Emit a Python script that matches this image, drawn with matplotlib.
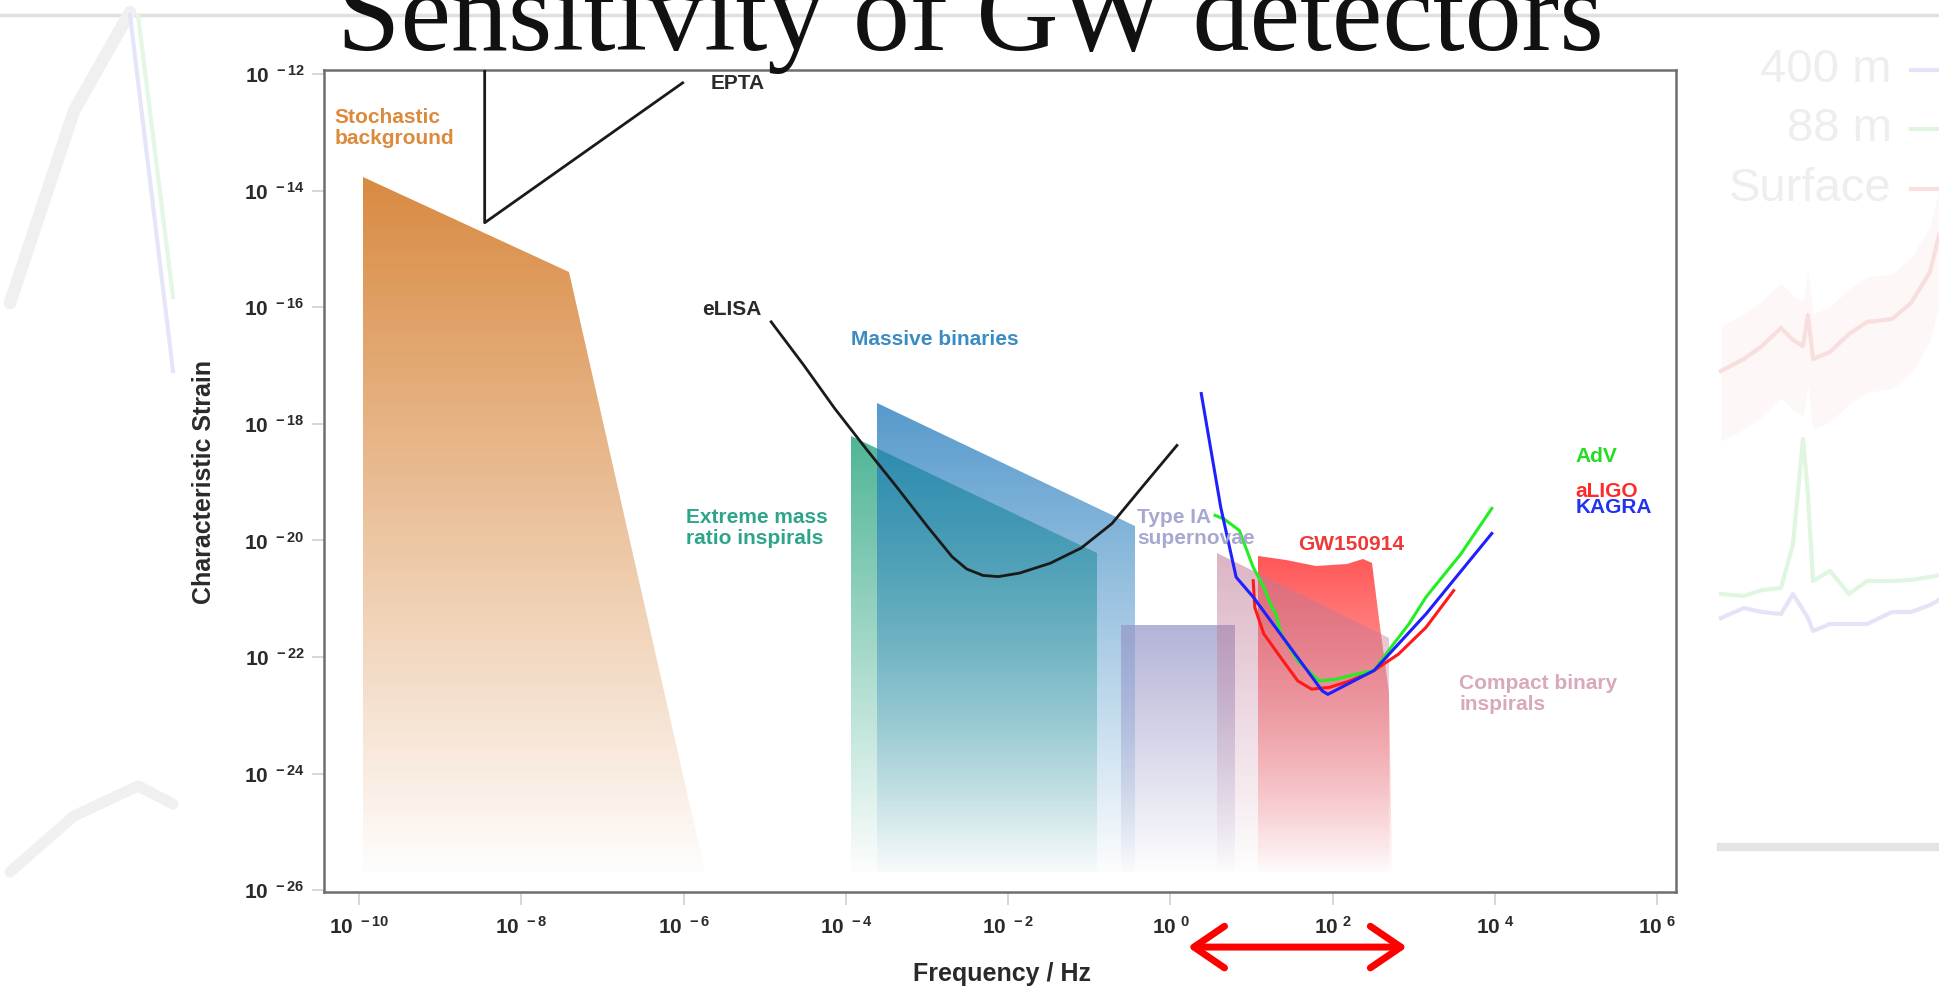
import numpy as np
import matplotlib
matplotlib.use('Agg')
import matplotlib.pyplot as plt
from matplotlib.patches import Polygon, Rectangle
from matplotlib.colors import LinearSegmentedColormap, to_rgb
from matplotlib.ticker import FixedLocator, FuncFormatter, NullLocator

plt.rcParams['font.family'] = ['Liberation Sans', 'DejaVu Sans']
plt.rcParams['mathtext.default'] = 'regular'

# --- source regions, in log10(f / Hz) and log10(h) ---
stoch_f = [-9.95, -7.41, -5.74, -9.95]
stoch_h = [-13.76, -15.40, -25.69, -25.69]

emri_f = [-3.93, -0.91, -0.91, -3.93]
emri_h = [-18.20, -20.22, -25.69, -25.69]

mbin_f = [-3.62, -0.44, -0.44, -3.62]
mbin_h = [-17.65, -19.75, -25.69, -25.69]

snia_f = [-0.61, 0.79, 0.79, -0.61]
snia_h = [-21.45, -21.45, -25.69, -25.69]

gw_f = [1.08, 1.42, 1.80, 2.18, 2.37, 2.48, 2.57, 2.69, 2.73, 1.08]
gw_h = [-20.26, -20.34, -20.43, -20.41, -20.32, -20.39, -21.34, -22.62, -25.69, -25.69]

cbc_f = [0.58, 2.69, 2.69, 0.58]
cbc_h = [-20.22, -21.68, -25.69, -25.69]

# --- detector sensitivity curves ---
epta_f = [-8.45, -8.45, -6.01]
epta_h = [-11.93, -14.55, -12.15]

elisa_f = [-4.92, -4.52, -4.14, -3.76, -3.38, -3.00, -2.69, -2.51, -2.31, -2.12,
           -1.86, -1.48, -1.10, -0.72, -0.34, 0.08]
elisa_h = [-16.25, -16.99, -17.73, -18.41, -19.07, -19.75, -20.28, -20.49, -20.60, -20.62,
           -20.56, -20.39, -20.13, -19.71, -19.07, -18.37]

kagra_f = [0.38, 0.62, 0.81, 1.02, 1.87, 1.94, 2.30, 2.51, 3.15, 3.96]
kagra_h = [-17.48, -19.43, -20.63, -20.97, -22.58, -22.64, -22.38, -22.23, -21.26, -19.88]

aligo_f = [1.02, 1.04, 1.15, 1.36, 1.57, 1.74, 1.96, 2.21, 2.51, 2.81, 3.15, 3.49]
aligo_h = [-20.69, -21.15, -21.60, -22.01, -22.41, -22.55, -22.52, -22.41, -22.23, -21.95, -21.49, -20.86]

adv_f = [0.55, 0.66, 0.85, 1.02, 1.15, 1.25, 1.30, 1.36, 1.57, 1.83, 2.04, 2.30, 2.51, 2.72, 2.94, 3.15, 3.58, 3.96]
adv_h = [-19.57, -19.63, -19.83, -20.46, -20.80, -21.15, -21.26, -21.60, -22.06, -22.41, -22.38, -22.29,
         -22.23, -21.83, -21.43, -20.97, -20.23, -19.45]

xticks_exp = [-10, -8, -6, -4, -2, 0, 2, 4, 6]
yticks_exp = [-26, -24, -22, -20, -18, -16, -14, -12]

# --- faded slide background (figure pixels) ---
bg_gray1_x = [10, 74, 130]
bg_gray1_y = [303, 111, 12]
bg_gray2_x = [10, 74, 138, 173]
bg_gray2_y = [872, 816, 786, 804]
bg_blue_x = [130, 173]
bg_blue_y = [15, 371]
bg_green_x = [138, 173]
bg_green_y = [15, 297]

bgr_x = [1721, 1744, 1762, 1781, 1793, 1803, 1808, 1813, 1830, 1849, 1867, 1892, 1911, 1930, 1939]
bgr_red = [371, 359, 346, 328, 340, 346, 315, 359, 352, 334, 322, 319, 303, 272, 235]
bgr_green = [594, 596, 590, 588, 544, 439, 495, 581, 571, 594, 581, 581, 580, 577, 575]
bgr_blue = [618, 608, 612, 614, 594, 610, 618, 631, 624, 624, 624, 612, 612, 605, 600]
bg_legend = ['400 m', '88 m', 'Surface']
bg_legend_y = [70, 129, 189]
bg_legend_c = ['#e2e3f8', '#e0f5e0', '#f8e0e0']

W, H = 1939, 992
fig = plt.figure(figsize=(W / 100, H / 100), dpi=100)

bg = fig.add_axes([0, 0, 1, 1])
bg.set_xlim(0, W)
bg.set_ylim(H, 0)
bg.axis('off')
bg.plot([0, W], [15, 15], color='#e0e0e0', lw=2.5)
bg.plot(bg_gray1_x, bg_gray1_y, color='#f0f0f0', lw=9, solid_capstyle='round')
bg.plot(bg_gray2_x, bg_gray2_y, color='#f0f0f0', lw=8, solid_capstyle='round')
bg.plot(bg_blue_x, bg_blue_y, color='#e4e6f8', lw=3)
bg.plot(bg_green_x, bg_green_y, color='#e4f6e4', lw=3)
bg.fill_between(bgr_x, np.array(bgr_red) - 45, np.array(bgr_red) + 70, color='#fef7f7', lw=0)
bg.plot(bgr_x, bgr_red, color='#f9dede', lw=3)
bg.plot(bgr_x, bgr_green, color='#e0f6e0', lw=3)
bg.plot(bgr_x, bgr_blue, color='#e4e4f8', lw=3)
bg.plot([1721, W], [847, 847], color='#e4e4e4', lw=6)
for lab, yy, cc in zip(bg_legend, bg_legend_y, bg_legend_c):
    bg.text(1892, yy, lab, ha='right', va='center', fontsize=34, color='#eeeeee')
    bg.plot([1911, W], [yy, yy], color=cc, lw=3)
bg.add_patch(Rectangle((173, 52), 1721 - 173, H - 52, fc='white', ec='none'))

# --- main chart ---
ax = fig.add_axes([324 / W, 1 - 892 / H, (1676 - 324) / W, (892 - 70) / H])
ax.set_xscale('log')
ax.set_yscale('log')


def fade_fill(fx, fh, color, alpha, z):
    x = 10.0 ** np.asarray(fx)
    y = 10.0 ** np.asarray(fh)
    poly = Polygon(np.column_stack([x, y]), closed=True, fc='none', ec='none')
    ax.add_patch(poly)
    r, g, b = to_rgb(color)
    cmap = LinearSegmentedColormap.from_list('fade', [(r, g, b, 0.0), (r, g, b, alpha)])
    ye = np.logspace(min(fh), max(fh), 160)
    xe = [x.min(), x.max()]
    c = np.linspace(0.02, 1, 159)[:, None]
    mesh = ax.pcolormesh(xe, ye, c, cmap=cmap, vmin=0, vmax=1, shading='flat',
                         antialiased=False, edgecolors='none', zorder=z)
    mesh.set_clip_path(poly)


fade_fill(stoch_f, stoch_h, '#d98a42', 1.0, 1)
fade_fill(emri_f, emri_h, '#1ea07a', 0.78, 2)
fade_fill(mbin_f, mbin_h, '#1e78bb', 0.75, 3)
fade_fill(snia_f, snia_h, '#9696c8', 0.72, 4)
fade_fill(gw_f, gw_h, '#ff3c3c', 0.86, 5)
fade_fill(cbc_f, cbc_h, '#c07896', 0.55, 6)

p = lambda a: 10.0 ** np.asarray(a)
ax.plot(p(epta_f), p(epta_h), color='#1a1a1a', lw=2, zorder=8)
ax.plot(p(elisa_f), p(elisa_h), color='#1a1a1a', lw=2, zorder=8, solid_joinstyle='round')
ax.plot(p(aligo_f), p(aligo_h), color='#ff1a1a', lw=2.2, zorder=9, solid_joinstyle='round')
ax.plot(p(adv_f), p(adv_h), color='#22ee22', lw=2.2, zorder=9, solid_joinstyle='round')
ax.plot(p(kagra_f), p(kagra_h), color='#1f1fff', lw=2.2, zorder=9, solid_joinstyle='round')

labels = [
    ('Stochastic\nbackground', -10.30, -12.92, '#dc8a3c'),
    ('EPTA', -5.66, -12.17, '#2a2a2a'),
    ('eLISA', -5.77, -16.03, '#2a2a2a'),
    ('Massive binaries', -3.94, -16.56, '#3a8cc4'),
    ('Extreme mass\nratio inspirals', -5.97, -19.79, '#2ea58a'),
    ('Type IA\nsupernovae', -0.41, -19.79, '#a6a8d0'),
    ('GW150914', 1.57, -20.07, '#f03838'),
    ('Compact binary\ninspirals', 3.56, -22.64, '#d8a8bc'),
    ('AdV', 4.99, -18.56, '#22dd22'),
    ('aLIGO', 4.99, -19.16, '#ff2a2a'),
    ('KAGRA', 4.99, -19.43, '#2233ee'),
]
for txt, lx, ly, col in labels:
    ax.text(10 ** lx, 10 ** ly, txt, color=col, fontsize=15, fontweight='bold',
            ha='left', va='center', linespacing=1.15, zorder=10)

ax.set_xlim(10 ** -10.43, 10 ** 6.23)
ax.set_ylim(10 ** -26.03, 10 ** -11.93)

ax.xaxis.set_major_locator(FixedLocator([10.0 ** e for e in xticks_exp]))
ax.yaxis.set_major_locator(FixedLocator([10.0 ** e for e in yticks_exp]))
ax.xaxis.set_minor_locator(NullLocator())
ax.yaxis.set_minor_locator(NullLocator())
fmt = FuncFormatter(lambda v, _: '10$^{\\ %d}$' % round(np.log10(v)))
ax.xaxis.set_major_formatter(fmt)
ax.yaxis.set_major_formatter(fmt)
ax.tick_params(direction='out', length=9, width=1.2, color='#cfcfcf',
               labelsize=15, labelcolor='#2a2a2a')
ax.tick_params(axis='x', pad=8)
ax.tick_params(axis='y', pad=5)
for lab in ax.get_xticklabels() + ax.get_yticklabels():
    lab.set_fontweight('bold')

for sp in ax.spines.values():
    sp.set_color('#6e6e6e')
    sp.set_linewidth(1.8)

ax.set_xlabel('Frequency / Hz', fontsize=18, fontweight='bold', color='#2a2a2a')
ax.set_ylabel('Characteristic Strain', fontsize=18, fontweight='bold', color='#2a2a2a')
ax.xaxis.set_label_coords(0.5015, -0.100)
ax.yaxis.set_label_coords(-0.089, 0.499)
ax.xaxis.label.set_va('center')
ax.yaxis.label.set_va('center')

# ground-based band marker under the frequency axis
ax.annotate('', xy=(10 ** 2.95, -0.067), xytext=(10 ** 0.18, -0.067),
            xycoords=ax.get_xaxis_transform(), annotation_clip=False,
            arrowprops=dict(arrowstyle='<->,head_length=1.1,head_width=0.75',
                            mutation_scale=20, color='#ff0000', lw=5,
                            capstyle='round', joinstyle='round'))

fig.text(0.5005, 1 - 49.5 / H, 'Sensitivity of GW detectors', family='Liberation Serif',
         fontsize=82, ha='center', va='baseline', color='#111111')

fig.savefig('out.png', dpi=100)
